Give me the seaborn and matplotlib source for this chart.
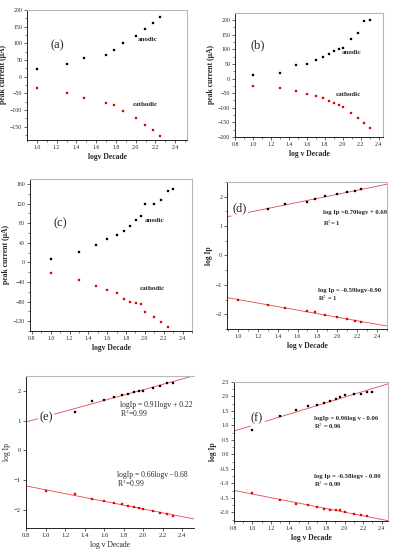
import matplotlib
matplotlib.use('Agg')
import matplotlib.pyplot as plt
from matplotlib.ticker import AutoMinorLocator, FormatStrFormatter
import seaborn as sns

# log of scan rate (10 ... 200 mV/s)
logv = [1.0, 1.301, 1.477, 1.602, 1.699, 1.778, 1.845, 1.903, 1.954, 2.0, 2.097, 2.176, 2.243, 2.301]
logv_short = [1.0, 1.301, 1.477, 1.699, 1.778, 1.875, 2.0, 2.097, 2.176, 2.243]

# (a) peak currents
anodic_a = [23, 37, 56, 64, 81, 102, 123, 142, 161, 178]
cathodic_a = [-33, -49, -63, -78, -84, -104, -123, -144, -161, -177]
# (b)
anodic_b = [12, 20, 45, 50, 64, 74, 84, 93, 102, 105, 135, 157, 197, 199]
cathodic_b = [-26, -33, -44, -53, -60, -67, -76, -83, -90, -98, -117, -134, -151, -170]
# (c)
anodic_c = [7, 21, 36, 47, 55, 64, 74, 86, 95, 119, 118, 127, 146, 149]
cathodic_c = [-21, -35, -48, -56, -62, -75, -80, -82, -84, -102, -111, -121, -131]
# (d) log Ip
anodic_d = [1.41, 1.58, 1.76, 1.81, 1.91, 2.01, 2.10, 2.16, 2.20, 2.25]
cathodic_d = [-1.50, -1.69, -1.80, -1.90, -1.93, -2.02, -2.09, -2.16, -2.22, -2.26]
# (e)
anodic_e = [1.29, 1.66, 1.70, 1.79, 1.85, 1.91, 1.96, 2.00, 2.01, 2.11, 2.18, 2.28, 2.28]
cathodic_e = [-1.39, -1.49, -1.63, -1.72, -1.77, -1.81, -1.88, -1.91, -1.94, -1.97, -2.04, -2.10, -2.16, -2.20]
# (f)
anodic_f = [0.84, 1.31, 1.54, 1.66, 1.72, 1.79, 1.86, 1.92, 1.97, 2.06, 2.07, 2.09, 2.15, 2.16]
cathodic_f = [-1.33, -1.56, -1.70, -1.76, -1.80, -1.89, -1.92, -1.93, -1.93, -2.00, -2.06, -2.09, -2.13]

eq_d = ['log Ip =0.70logv + 0.69', 'R$^2$= 1', 'log Ip = -0.59logv-0.90', 'R$^2$ = 1']
eq_e = ['logIp = 0.91logv + 0.22', 'R$^2$=0.99', 'logIp = 0.66logv - 0.68', 'R$^2$=0.99']
eq_f = ['logIp = 0.96log v - 0.06', 'R$^2$ = 0.96', 'log Ip = -0.58logv - 0.80', 'R$^2$ = 0.99']

sns.set_style('ticks')
plt.rcParams['font.family'] = ['Liberation Serif', 'DejaVu Serif']
plt.rcParams['mathtext.fontset'] = 'stix'

W, H = 397, 550
fig = plt.figure(figsize=(W / 100, H / 100), dpi=100)


def make_ax(l, t, r, b):
    return fig.add_axes([l / W, 1 - b / H, (r - l) / W, (b - t) / H])


def style(ax, xlim, ylim, xlabel, ylabel, bold=True, fs=4.2):
    ax.set_xlim(xlim)
    ax.set_ylim(ylim)
    w = 'bold' if bold else 'normal'
    ax.set_xlabel(xlabel, fontsize=5.5, fontweight=w, labelpad=2)
    ax.set_ylabel(ylabel, fontsize=5.5, fontweight=w, labelpad=2)
    ax.tick_params(labelsize=fs, length=2, width=0.5, pad=1.5)
    ax.tick_params(which='minor', length=1.2, width=0.4)
    ax.xaxis.set_minor_locator(AutoMinorLocator(2))
    ax.yaxis.set_minor_locator(AutoMinorLocator(2))
    for s in ['left', 'bottom']:
        ax.spines[s].set_color('black')
        ax.spines[s].set_linewidth(0.6)
    for s in ['top', 'right']:
        ax.spines[s].set_visible(True)
        ax.spines[s].set_color('#b8b8b8')
        ax.spines[s].set_linewidth(0.8)


def points(ax, x, y, c):
    sns.scatterplot(x=x, y=y, ax=ax, marker='s', s=4, color=c,
                    edgecolor='#a00000' if c != 'black' else 'black', linewidth=0.2, zorder=3)


def fit(ax, x, y):
    sns.regplot(x=x, y=y, ax=ax, scatter=False, ci=None, truncate=False,
                line_kws=dict(color='#e8484f', lw=0.6))


def label(ax, txt, x, y, size=9):
    ax.text(x, y, txt, transform=ax.transAxes, fontsize=size, ha='center', va='center',
            zorder=4, bbox=dict(facecolor='white', edgecolor='none', pad=1))


def note(ax, txt, x, y, bold=True, size=5):
    ax.text(x, y, txt, transform=ax.transAxes, fontsize=size, ha='left', va='center',
            fontweight='bold' if bold else 'normal')


# (a)
ax = make_ax(27, 10, 187, 140)
points(ax, logv_short, anodic_a, 'black')
points(ax, logv_short, cathodic_a, 'red')
style(ax, (0.9, 2.52), (-190, 200), 'logv Decade', 'peak current (μA)')
ax.set_xticks([1.0, 1.2, 1.4, 1.6, 1.8, 2.0, 2.2, 2.4])
ax.set_yticks([-150, -100, -50, 0, 50, 100, 150, 200])
ax.xaxis.set_major_formatter(FormatStrFormatter('%.1f'))
label(ax, '(a)', 0.19, 0.73)
note(ax, 'anodic', 0.69, 0.77)
note(ax, 'cathodic', 0.66, 0.27)

# (b)
ax = make_ax(235, 13, 383, 137)
points(ax, logv, anodic_b, 'black')
points(ax, logv, cathodic_b, 'red')
style(ax, (0.8, 2.45), (-200, 224), 'log v Decade', 'peak current (μA)')
ax.set_xticks([0.8, 1.0, 1.2, 1.4, 1.6, 1.8, 2.0, 2.2, 2.4])
ax.set_yticks([-200, -150, -100, -50, 0, 50, 100, 150, 200])
ax.xaxis.set_major_formatter(FormatStrFormatter('%.1f'))
label(ax, '(b)', 0.15, 0.74)
note(ax, 'anodic', 0.72, 0.68)
note(ax, 'cathodic', 0.68, 0.34)

# (c)
ax = make_ax(30, 179, 192, 331)
points(ax, logv, anodic_c, 'black')
points(ax, logv[:len(cathodic_c)], cathodic_c, 'red')
style(ax, (0.78, 2.5), (-140, 170), 'logv Decade', 'peak current (μA)')
ax.set_xticks([0.8, 1.0, 1.2, 1.4, 1.6, 1.8, 2.0, 2.2, 2.4])
ax.set_yticks([-120, -80, -40, 0, 40, 80, 120, 160])
ax.xaxis.set_major_formatter(FormatStrFormatter('%.1f'))
label(ax, '(c)', 0.185, 0.71)
note(ax, 'anodic', 0.71, 0.73)
note(ax, 'cathodic', 0.68, 0.28)

# (d)
ax = make_ax(227, 182, 387, 329)
ax.set_xlim(0.89, 2.5)
fit(ax, logv_short, anodic_d)
fit(ax, logv_short, cathodic_d)
points(ax, logv_short, anodic_d, 'black')
points(ax, logv_short, cathodic_d, 'red')
style(ax, (0.89, 2.5), (-2.5, 2.5), 'log v Decade', 'log Ip')
ax.set_xticks([1.0, 1.2, 1.4, 1.6, 1.8, 2.0, 2.2, 2.4])
ax.set_yticks([-2, -1, 0, 1, 2])
ax.xaxis.set_major_formatter(FormatStrFormatter('%.1f'))
label(ax, '(d)', 0.08, 0.82)
note(ax, eq_d[0], 0.60, 0.79, size=4.8)
note(ax, eq_d[1], 0.60, 0.72, size=4.8)
note(ax, eq_d[2], 0.57, 0.265, size=4.8)
note(ax, eq_d[3], 0.57, 0.21, size=4.8)

# (e)
ax = make_ax(26, 376, 194, 528)
ax.set_xlim(0.8, 2.52)
fit(ax, logv[1:], anodic_e)
fit(ax, logv, cathodic_e)
points(ax, logv[1:], anodic_e, 'black')
points(ax, logv, cathodic_e, 'red')
style(ax, (0.8, 2.52), (-2.62, 2.5), 'log v Decade', 'log Ip', bold=False, fs=4.8)
ax.set_xticks([0.8, 1.0, 1.2, 1.4, 1.6, 1.8, 2.0, 2.2, 2.4])
ax.set_yticks([-2, -1, 0, 1, 2])
ax.xaxis.set_major_formatter(FormatStrFormatter('%.1f'))
ax.xaxis.set_minor_locator(plt.NullLocator())
ax.yaxis.set_minor_locator(plt.NullLocator())
ax.spines['right'].set_visible(False)
label(ax, '(e)', 0.12, 0.73)
note(ax, eq_e[0], 0.56, 0.81, bold=False, size=5.5)
note(ax, eq_e[1], 0.56, 0.755, bold=False, size=5.5)
note(ax, eq_e[2], 0.54, 0.35, bold=False, size=5.5)
note(ax, eq_e[3], 0.54, 0.295, bold=False, size=5.5)

# (f)
ax = make_ax(234, 382, 388, 521)
ax.set_xlim(0.8, 2.47)
fit(ax, logv, anodic_f)
fit(ax, logv[:len(cathodic_f)], cathodic_f)
points(ax, logv, anodic_f, 'black')
points(ax, logv[:len(cathodic_f)], cathodic_f, 'red')
style(ax, (0.8, 2.47), (-2.3, 2.5), 'log v Decade', 'log Ip')
ax.set_xticks([0.8, 1.0, 1.2, 1.4, 1.6, 1.8, 2.0, 2.2, 2.4])
ax.set_yticks([-2.0, -1.5, -1.0, -0.5, 0.0, 0.5, 1.0, 1.5, 2.0, 2.5])
ax.xaxis.set_major_formatter(FormatStrFormatter('%.1f'))
ax.yaxis.set_major_formatter(FormatStrFormatter('%.1f'))
label(ax, '(f)', 0.15, 0.74)
note(ax, eq_f[0], 0.52, 0.74, size=4.8)
note(ax, eq_f[1], 0.52, 0.68, size=4.8)
note(ax, eq_f[2], 0.52, 0.32, size=4.8)
note(ax, eq_f[3], 0.52, 0.265, size=4.8)

fig.savefig('out.png', dpi=100)
